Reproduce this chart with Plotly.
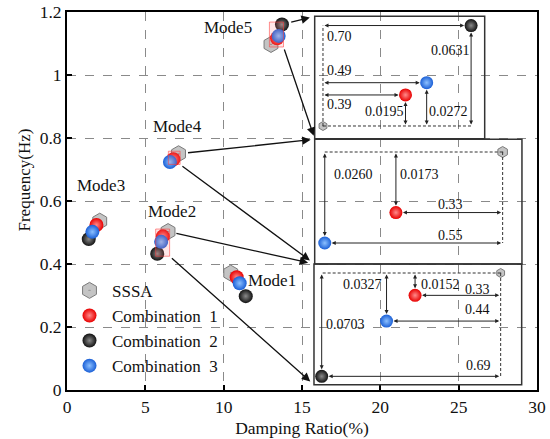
import plotly.graph_objects as go

# ---------------- data ----------------
modes = ["Mode1", "Mode2", "Mode3", "Mode4", "Mode5"]
sssa_x = [10.45, 6.45, 2.09, 7.12, 13.02]
sssa_y = [0.371, 0.503, 0.536, 0.750, 1.097]
c1_x = [10.83, 6.12, 1.88, 6.79, 13.41]
c1_y = [0.358, 0.4878, 0.524, 0.7327, 1.1165]
c2_x = [11.41, 5.76, 1.39, None, 13.72]
c2_y = [0.298, 0.4327, 0.479, None, 1.1601]
c3_x = [11.02, 6.01, 1.62, 6.57, 13.51]
c3_y = [0.339, 0.4703, 0.502, 0.7240, 1.1242]
series_names = ["SSSA", "Combination\u00a0\u00a01", "Combination\u00a0\u00a02", "Combination\u00a0\u00a03"]
x_title = "Damping Ratio(%)"
y_title = "Frequency(Hz)"

FONT = "Liberation Serif, Times New Roman, serif"

combos = [(c1_x, c1_y), (c2_x, c2_y), (c3_x, c3_y)]
sphere_style = [
    dict(color="#e80000", gradient=dict(type="radial", color="#ff8a8a")),
    dict(color="#111111", gradient=dict(type="radial", color="#8a8a8a")),
    dict(color="#1a5fd6", gradient=dict(type="radial", color="#8cc0ff")),
]
hex_style = dict(symbol="hexagon-dot", color="#c4c4c4", line=dict(color="#7a7a7a", width=1))

fig = go.Figure()

def add_points(xs, ys, xa, ya, hex_size, sph_size, legend):
    fig.add_trace(go.Scatter(x=xs[0], y=ys[0], mode="markers", name=series_names[0],
                             marker=dict(size=hex_size, **hex_style), xaxis=xa, yaxis=ya,
                             showlegend=legend, hoverinfo="skip"))
    for k in range(3):
        fig.add_trace(go.Scatter(x=xs[k + 1], y=ys[k + 1], mode="markers", name=series_names[k + 1],
                                 marker=dict(size=sph_size, line=dict(width=0), **sphere_style[k]),
                                 xaxis=xa, yaxis=ya, showlegend=legend, hoverinfo="skip"))

# main chart
add_points([sssa_x, c1_x, c2_x, c3_x], [sssa_y, c1_y, c2_y, c3_y], "x", "y", 16, 14, True)

# insets: (mode index, axis suffix, domain x, domain y, range x, range y, hexagon size)
insets = [
    (4, "2", [0.527, 0.8887], [0.6648, 0.9886], [12.9808, 13.7842], [1.08902, 1.1659], 9),
    (3, "3", [0.527, 0.968], [0.3333, 0.6632], [6.5389, 7.1797], [0.718, 0.75363], 11),
    (1, "4", [0.5255, 0.9674], [0.014, 0.3333], [5.7303, 6.531], [0.42701, 0.50912], 9),
]

shapes = []
annotations = []

for (m, s, dx, dy, rx, ry, hs) in insets:
    xa, ya = "x" + s, "y" + s
    xs = [[sssa_x[m]]] + [[c[0][m]] for c in combos]
    ys = [[sssa_y[m]]] + [[c[1][m]] for c in combos]
    xs = [v if v[0] is not None else [] for v in xs]
    ys = [v if v[0] is not None else [] for v in ys]
    add_points(xs, ys, xa, ya, hs, 13, False)
    fig.update_layout(**{
        "xaxis" + s: dict(domain=dx, range=rx, visible=False, anchor=ya, fixedrange=True, automargin=False),
        "yaxis" + s: dict(domain=dy, range=ry, visible=False, anchor=xa, fixedrange=True, automargin=False),
    })
    shapes.append(dict(type="rect", xref=xa + " domain", yref=ya + " domain", x0=0, x1=1, y0=0, y1=1,
                       line=dict(color="#333333", width=1.5), fillcolor="rgba(0,0,0,0)", layer="above"))
    sx, sy = sssa_x[m], sssa_y[m]
    pts = [(c[0][m], c[1][m]) for c in combos if c[0][m] is not None]
    far_x = max(pts, key=lambda p: abs(p[0] - sx))[0]
    far_y = max(pts, key=lambda p: abs(p[1] - sy))[1]
    shapes.append(dict(type="line", xref=xa, yref=ya, x0=sx, x1=sx, y0=sy, y1=far_y,
                       line=dict(color="#333333", width=1, dash="3px,2px")))
    shapes.append(dict(type="line", xref=xa, yref=ya, x0=sx, x1=far_x, y0=sy, y1=sy,
                       line=dict(color="#333333", width=1, dash="3px,2px")))
    for (px, py) in pts:
        for (tx, ty) in [(sx, py), (px, sy)]:
            annotations.append(dict(xref=xa, yref=ya, axref=xa, ayref=ya, x=px, y=py, ax=tx, ay=ty,
                                    text="", showarrow=True, arrowside="end+start", arrowhead=2,
                                    arrowsize=0.8, arrowwidth=1, arrowcolor="#222222", standoff=7,
                                    startstandoff=0))

def dxt(m, cx):
    return "%.2f" % abs(cx[m] - sssa_x[m])

def dyt(m, cy):
    return "%.4f" % abs(cy[m] - sssa_y[m])

m = 4
lab = [
    ("2", dxt(m, c2_x), sssa_x[m], c2_y[m], 16.3, -11),
    ("2", dxt(m, c3_x), sssa_x[m], c3_y[m], 16.3, 11.7),
    ("2", dxt(m, c1_x), sssa_x[m], c1_y[m], 16.3, -10),
    ("2", dyt(m, c2_y), c2_x[m], c2_y[m], -20.6, -24.7),
    ("2", dyt(m, c1_y), c1_x[m], sssa_y[m], -20.7, 14),
    ("2", dyt(m, c3_y), c3_x[m], sssa_y[m], 22.3, 14),
]
m = 3
lab += [
    ("3", dxt(m, c1_x), sssa_x[m], c1_y[m], -52, 7.7),
    ("3", dxt(m, c3_x), sssa_x[m], c3_y[m], -52, 7.7),
    ("3", dyt(m, c3_y), c3_x[m], sssa_y[m], 28.5, -22.8),
    ("3", dyt(m, c1_y), c1_x[m], sssa_y[m], 23.2, -22.8),
]
m = 1
lab += [
    ("4", dxt(m, c1_x), sssa_x[m], c1_y[m], -23.5, 5.7),
    ("4", dxt(m, c3_x), sssa_x[m], c3_y[m], -23.5, 11.3),
    ("4", dxt(m, c2_x), sssa_x[m], c2_y[m], -22.2, 11.1),
    ("4", dyt(m, c3_y), c3_x[m], sssa_y[m], -23.7, -11.5),
    ("4", dyt(m, c1_y), c1_x[m], sssa_y[m], 25.8, -11.5),
    ("4", dyt(m, c2_y), c2_x[m], (sssa_y[m] + c2_y[m]) / 2, 23.8, 0),
]
for (s, t, ax_, ay_, xsh, ysh) in lab:
    annotations.append(dict(xref="x" + s, yref="y" + s, x=ax_, y=ay_, text=t, showarrow=False,
                            xshift=xsh, yshift=ysh, font=dict(family=FONT, size=14, color="#111")))

# mode labels
mode_shift = [(41.5, -7), (3.6, 19.8), (1, 35.4), (-1.1, 26.8), (-43, 16.9)]
for i, name in enumerate(modes):
    annotations.append(dict(xref="x", yref="y", x=sssa_x[i], y=sssa_y[i], text=name, showarrow=False,
                            xshift=mode_shift[i][0], yshift=mode_shift[i][1],
                            font=dict(family=FONT, size=17, color="#111")))

def bbox(m, padx=0.1, pady=0.008):
    xs = [v[m] for v in (sssa_x, c1_x, c2_x, c3_x) if v[m] is not None]
    ys = [v[m] for v in (sssa_y, c1_y, c2_y, c3_y) if v[m] is not None]
    return min(xs) - padx, max(xs) + padx, min(ys) - pady, max(ys) + pady

for m in (4, 3, 1):
    x0, x1, y0, y1 = bbox(m)
    shapes.append(dict(type="rect", xref="x", yref="y", x0=x0, x1=x1, y0=y0, y1=y1,
                       line=dict(color="rgba(255,60,60,0.55)", width=1),
                       fillcolor="rgba(255,120,120,0.18)", layer="above"))

XMAX, YMAX = 30.0, 1.2
def corner(ins, cx, cy):
    d = insets[ins]
    return d[2][cx] * XMAX, d[3][cy] * YMAX

conn = []
b = bbox(4)
conn.append(((c2_x[4], c2_y[4]), corner(0, 0, 1), 8, 5))
conn.append(((b[1], b[2]), corner(0, 0, 0), 1, 3))
b = bbox(3)
conn.append(((sssa_x[3], sssa_y[3]), corner(1, 0, 1), 8, 4))
conn.append(((b[1], b[2]), corner(1, 0, 0), 1, 6))
b = bbox(1)
conn.append(((sssa_x[1], sssa_y[1]), corner(2, 0, 1), 7, 6))
conn.append(((b[1], b[2]), corner(2, 0, 0), 1, 5))
for (tail, head, sst, st) in conn:
    annotations.append(dict(xref="x", yref="y", axref="x", ayref="y", x=head[0], y=head[1],
                            ax=tail[0], ay=tail[1], text="", showarrow=True, arrowhead=2,
                            arrowsize=1.3, arrowwidth=1.3, arrowcolor="#111",
                            standoff=st, startstandoff=sst))

# y-axis title (placed as in the reference, slightly above the axis middle)
annotations.append(dict(xref="paper", yref="paper", x=-0.0904, y=0.5556, text=y_title,
                        textangle=-90, showarrow=False, xanchor="center", yanchor="middle",
                        font=dict(family=FONT, size=17, color="#111")))

axis_common = dict(ticks="inside", ticklen=5, tickwidth=1.5, tickcolor="black", showline=True,
                   linewidth=2, linecolor="black", mirror=True, showgrid=True, gridcolor="#8a8a8a",
                   griddash="dash", gridwidth=1.2, zeroline=False, automargin=False,
                   tickfont=dict(family=FONT, size=17.5, color="#111"))

fig.update_layout(
    width=550, height=439, autosize=False,
    margin=dict(l=67, r=13, t=12, b=49, autoexpand=False),
    paper_bgcolor="white", plot_bgcolor="rgba(0,0,0,0)",
    xaxis=dict(range=[0, 30], dtick=5, tick0=0,
               title=dict(text=x_title, font=dict(family=FONT, size=17.5, color="#111"), standoff=6),
               **axis_common),
    yaxis=dict(range=[0, 1.2], dtick=0.2, tick0=0, **axis_common),
    legend=dict(x=0.0, y=0.31, xanchor="left", yanchor="top", bgcolor="rgba(0,0,0,0)",
                font=dict(family=FONT, size=17, color="#111"), tracegroupgap=0, itemwidth=35),
    shapes=shapes, annotations=annotations,
    font=dict(family=FONT),
)

fig.write_html("out.html", config={"displayModeBar": False},
               post_script="document.body.style.margin='0';document.body.style.padding='0';document.documentElement.style.overflow='hidden';")
